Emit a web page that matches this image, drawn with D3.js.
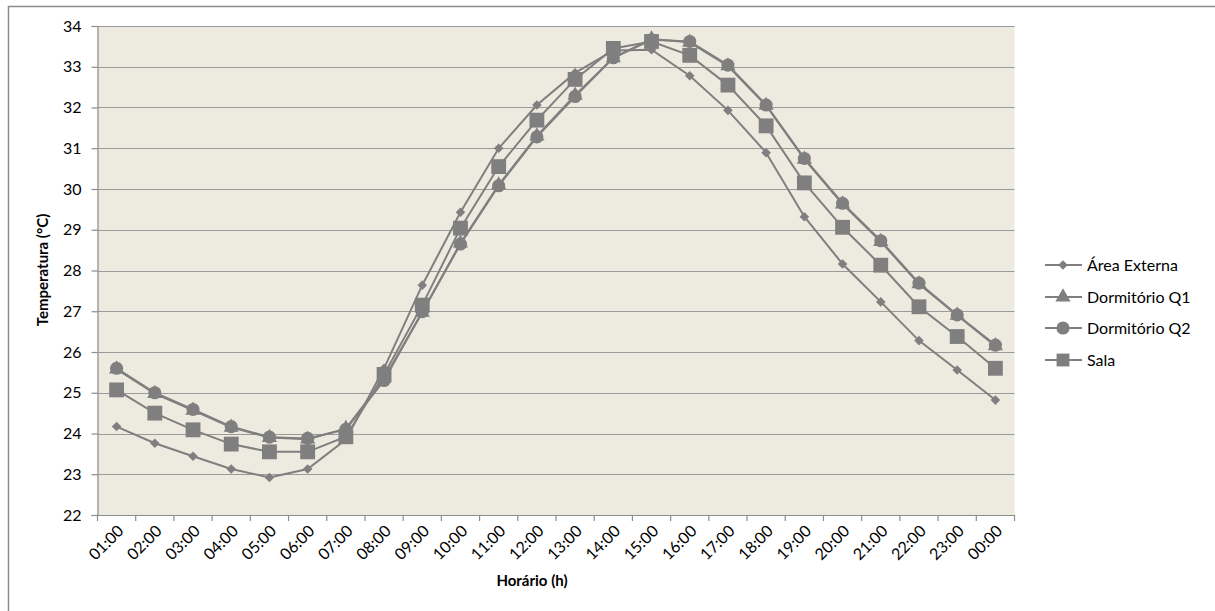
<!DOCTYPE html>
<html>
<head>
<meta charset="utf-8">
<script src="https://cdn.jsdelivr.net/npm/d3@7"></script>
<style>
  body { margin: 0; background: #fff; }
  text { font-family: Lato, "Open Sans", sans-serif; fill: #000; }
</style>
</head>
<body>
<svg id="chart" width="1215" height="611"></svg>
<script>
// categories (hours)
var hours = ["01:00","02:00","03:00","04:00","05:00","06:00","07:00","08:00","09:00","10:00","11:00","12:00",
             "13:00","14:00","15:00","16:00","17:00","18:00","19:00","20:00","21:00","22:00","23:00","00:00"];

// series values (°C)
var areaExterna = [24.17,23.76,23.44,23.13,22.92,23.13,23.85,25.6,27.64,29.43,31.0,32.06,
                   32.85,33.4,33.42,32.78,31.93,30.89,29.32,28.16,27.23,26.28,25.56,24.82];
var dormQ1 = [25.58,24.98,24.57,24.15,23.9,23.86,24.12,25.35,26.97,28.67,30.1,31.3,
              32.3,33.22,33.68,33.6,33.02,32.05,30.73,29.63,28.71,27.67,26.9,26.15];
var dormQ2 = [25.6,25.0,24.59,24.17,23.91,23.88,24.1,25.3,26.99,28.65,30.08,31.28,
              32.27,33.22,33.66,33.62,33.04,32.06,30.75,29.65,28.73,27.69,26.91,26.17];
var sala = [25.07,24.5,24.09,23.74,23.55,23.55,23.92,25.45,27.15,29.04,30.55,31.69,
            32.69,33.45,33.62,33.28,32.55,31.55,30.15,29.06,28.13,27.11,26.38,25.6];

var yTicks = [22,23,24,25,26,27,28,29,30,31,32,33,34];

var seriesNames = ["Área Externa","Dormitório Q1","Dormitório Q2","Sala"];
var seriesValues = [areaExterna, dormQ1, dormQ2, sala];
// diamond = square turned 45 degrees
var seriesSymbols = [d3.symbolSquare, d3.symbolTriangle, d3.symbolCircle, d3.symbolSquare];
var symbolSizes = [46, 100, 135, 220];
var symbolRotate = [45, 0, 0, 0];

var grey = "#7f7f7f";
var svg = d3.select("#chart");

// outer chart frame
svg.append("rect")
  .attr("x", 8.5).attr("y", 6.5)
  .attr("width", 1230).attr("height", 620)
  .attr("fill", "none")
  .attr("stroke", "#8c8c8c")
  .attr("stroke-width", 1.5);

var plotL = 97.5, plotR = 1014.5, plotT = 26, plotB = 515;

var x = d3.scaleBand().domain(hours).range([plotL, plotR]).padding(0);
var y = d3.scaleLinear().domain([22, 34]).range([plotB, plotT]);

// plot area
svg.append("rect")
  .attr("x", plotL).attr("y", plotT)
  .attr("width", plotR - plotL).attr("height", plotB - plotT)
  .attr("fill", "#edeae0");

// gridlines
svg.append("g").selectAll("line")
  .data(yTicks.filter(function(d) { return d > 22; }))
  .enter().append("line")
  .attr("x1", plotL).attr("x2", plotR)
  .attr("y1", function(d) { return Math.round(y(d)) + 0.5; })
  .attr("y2", function(d) { return Math.round(y(d)) + 0.5; })
  .attr("stroke", "#9a9a9a")
  .attr("stroke-width", 1.2);

// y axis
var yAxis = d3.axisLeft(y).tickValues(yTicks).tickSize(6).tickPadding(10);
var gy = svg.append("g").attr("transform", "translate(" + plotL + ",0)").call(yAxis);
gy.select(".domain").attr("stroke", "#8c8c8c").attr("stroke-width", 1.2);
gy.selectAll(".tick line").attr("stroke", "#8c8c8c").attr("stroke-width", 1.2);
gy.selectAll(".tick text").style("font-size", "16px").style("font-family", "Lato, sans-serif").attr("fill", "#000");

// x axis: labels at centres, ticks at band edges
var xAxis = d3.axisBottom(x).tickSize(0).tickPadding(0);
var gx = svg.append("g").attr("transform", "translate(0," + plotB + ")").call(xAxis);
gx.select(".domain").attr("stroke", "#8c8c8c").attr("stroke-width", 1.2);
gx.selectAll(".tick text")
  .style("font-size", "16px").style("font-family", "Lato, sans-serif").attr("fill", "#000")
  .attr("text-anchor", "end")
  .attr("dy", "0")
  .attr("transform", "translate(8,17) rotate(-45)");

var edges = hours.map(function(h) { return x(h); }).concat([plotR]);
gx.selectAll(".edge").data(edges).enter().append("line")
  .attr("class", "edge")
  .attr("x1", function(d) { return d; }).attr("x2", function(d) { return d; })
  .attr("y1", 0).attr("y2", 6)
  .attr("stroke", "#8c8c8c").attr("stroke-width", 1.2);

// axis titles
svg.append("text")
  .attr("x", 532).attr("y", 586)
  .attr("text-anchor", "middle")
  .style("font-size", "15px").style("font-weight", "bold")
  .text("Horário (h)");

svg.append("text")
  .attr("transform", "translate(48,270) rotate(-90)")
  .attr("text-anchor", "middle")
  .style("font-size", "15px").style("font-weight", "bold")
  .text("Temperatura (°C)");

// lines + markers
var cx = function(i) { return x(hours[i]) + x.bandwidth() / 2; };
var line = d3.line()
  .x(function(d, i) { return cx(i); })
  .y(function(d) { return y(d); });

seriesValues.forEach(function(vals, s) {
  var g = svg.append("g");
  g.append("path")
    .datum(vals)
    .attr("d", line)
    .attr("fill", "none")
    .attr("stroke", grey)
    .attr("stroke-width", 2);
  g.selectAll("path.mk").data(vals).enter().append("path")
    .attr("class", "mk")
    .attr("transform", function(d, i) {
      return "translate(" + cx(i) + "," + y(d) + ") rotate(" + symbolRotate[s] + ")";
    })
    .attr("d", d3.symbol().type(seriesSymbols[s]).size(symbolSizes[s]))
    .attr("fill", grey);
});

// legend
var legendY = [265, 297, 328, 360];
var lg = svg.append("g");
seriesNames.forEach(function(name, s) {
  var ly = legendY[s];
  lg.append("line")
    .attr("x1", 1045).attr("x2", 1082)
    .attr("y1", ly).attr("y2", ly)
    .attr("stroke", grey).attr("stroke-width", 2);
  lg.append("path")
    .attr("transform", "translate(1063," + ly + ") rotate(" + symbolRotate[s] + ")")
    .attr("d", d3.symbol().type(seriesSymbols[s]).size(symbolSizes[s] * (s === 3 ? 0.75 : 1)))
    .attr("fill", grey);
  lg.append("text")
    .attr("x", 1087).attr("y", ly + 6)
    .style("font-size", "16px")
    .text(name);
});
</script>
</body>
</html>
